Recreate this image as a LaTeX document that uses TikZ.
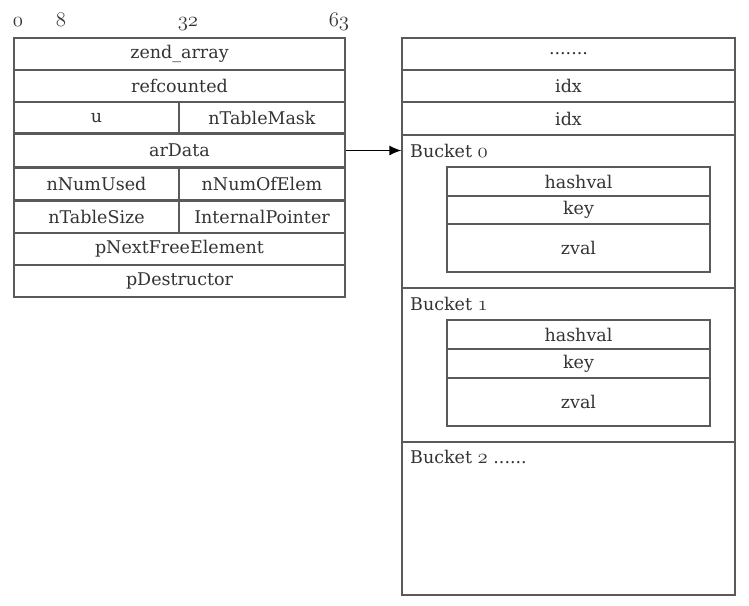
\documentclass[tikz,border=0pt]{standalone}
\usepackage{fontspec}
\setmainfont{DejaVu Serif}
\usetikzlibrary{arrows.meta}
\definecolor{txt}{HTML}{333333}
\definecolor{ln}{HTML}{5A5A5A}
\newcommand{\osn}[1]{{\fontsize{21.5}{24}\usefont{OML}{lmm}{b}{it}#1}}
\begin{document}
\begin{tikzpicture}[x=1pt,y=-1pt,
  every node/.style={font=\fontsize{17.5}{21}\selectfont, text=txt},
  cell/.style={draw=ln, line width=1.3pt, inner sep=0pt, minimum height=#1},
  cell/.default=32pt,
  full/.style={cell, minimum width=331pt},
  half/.style={cell, minimum width=165.5pt},
  rfull/.style={cell, minimum width=333pt},
  inner/.style={cell=#1, minimum width=263pt},
  thk/.style={draw=ln, line width=2.6pt},
  lbl/.style={anchor=base west, inner sep=0pt},
  hdr/.style={anchor=base, inner sep=0pt}]
\useasboundingbox (0,0) rectangle (749,605);
% header numbers
\node[hdr] (n0) at (18,27) {\osn{0}};
\node[hdr] (n8) at (61,27) {\osn{8}};
\node[hdr] (n32) at (188,27) {\osn{32}};
\node[hdr] (n63) at (339,27) {\osn{63}};
% left table
\node[full] (za) at (179.5,54) {zend\_array};
\node[full] (rc) at (179.5,86) {refcounted};
\node[half, minimum width=165pt] (u) at (96.5,118) {u};
\node[half, minimum width=166pt] (tm) at (262,118) {nTableMask};
\node[full, minimum height=33pt] (ad) at (179.5,150.5) {arData};
\node[half, minimum width=165pt, minimum height=33pt] (nu) at (96.5,183.5) {nNumUsed};
\node[half, minimum width=166pt, minimum height=33pt] (ne) at (262,183.5) {nNumOfElem};
\node[half, minimum width=165pt, minimum height=33pt] (ts) at (96.5,216.5) {nTableSize};
\node[half, minimum width=166pt, minimum height=33pt] (ip) at (262,216.5) {InternalPointer};
\node[full] (pn) at (179.5,249) {pNextFreeElement};
\node[full] (pd) at (179.5,281) {pDestructor};
\draw[thk] (ad.north west) -- (ad.north east);
\draw[thk] (ad.south west) -- (ad.south east);
\draw[thk] (nu.south west) -- (ne.south east);
% right table
\node[rfull] (dots) at (568.5,54) {.......};
\node[rfull] (idx1) at (568.5,86) {idx};
\node[rfull, minimum height=33pt] (idx2) at (568.5,118.5) {idx};
\node[rfull, minimum height=153pt] (b0) at (568.5,211.5) {};
\node[rfull, minimum height=154pt] (b1) at (568.5,365) {};
\node[rfull, minimum height=153pt] (b2) at (568.5,518.5) {};
\node[lbl] (b0l) at (410,157) {Bucket \osn{0}};
\node[lbl] (b1l) at (410,310) {Bucket \osn{1}};
\node[lbl] (b2l) at (410,463) {Bucket \osn{2} ......};
% bucket 0 inner
\node[inner=29pt] (h0) at (578.5,181.5) {hashval};
\node[inner=28pt] (k0) at (578.5,210) {key};
\node[inner=48pt] (z0) at (578.5,248) {zval};
% bucket 1 inner
\node[inner=29pt] (h1) at (578.5,334.5) {hashval};
\node[inner=29pt] (k1) at (578.5,363.5) {key};
\node[inner=48pt] (z1) at (578.5,402) {zval};
% arrow
\draw[black, line width=1.3pt, -{Latex[length=12pt,width=10pt]}] (ad.east) -- (ad.east -| b0.west);
\end{tikzpicture}
\end{document}
